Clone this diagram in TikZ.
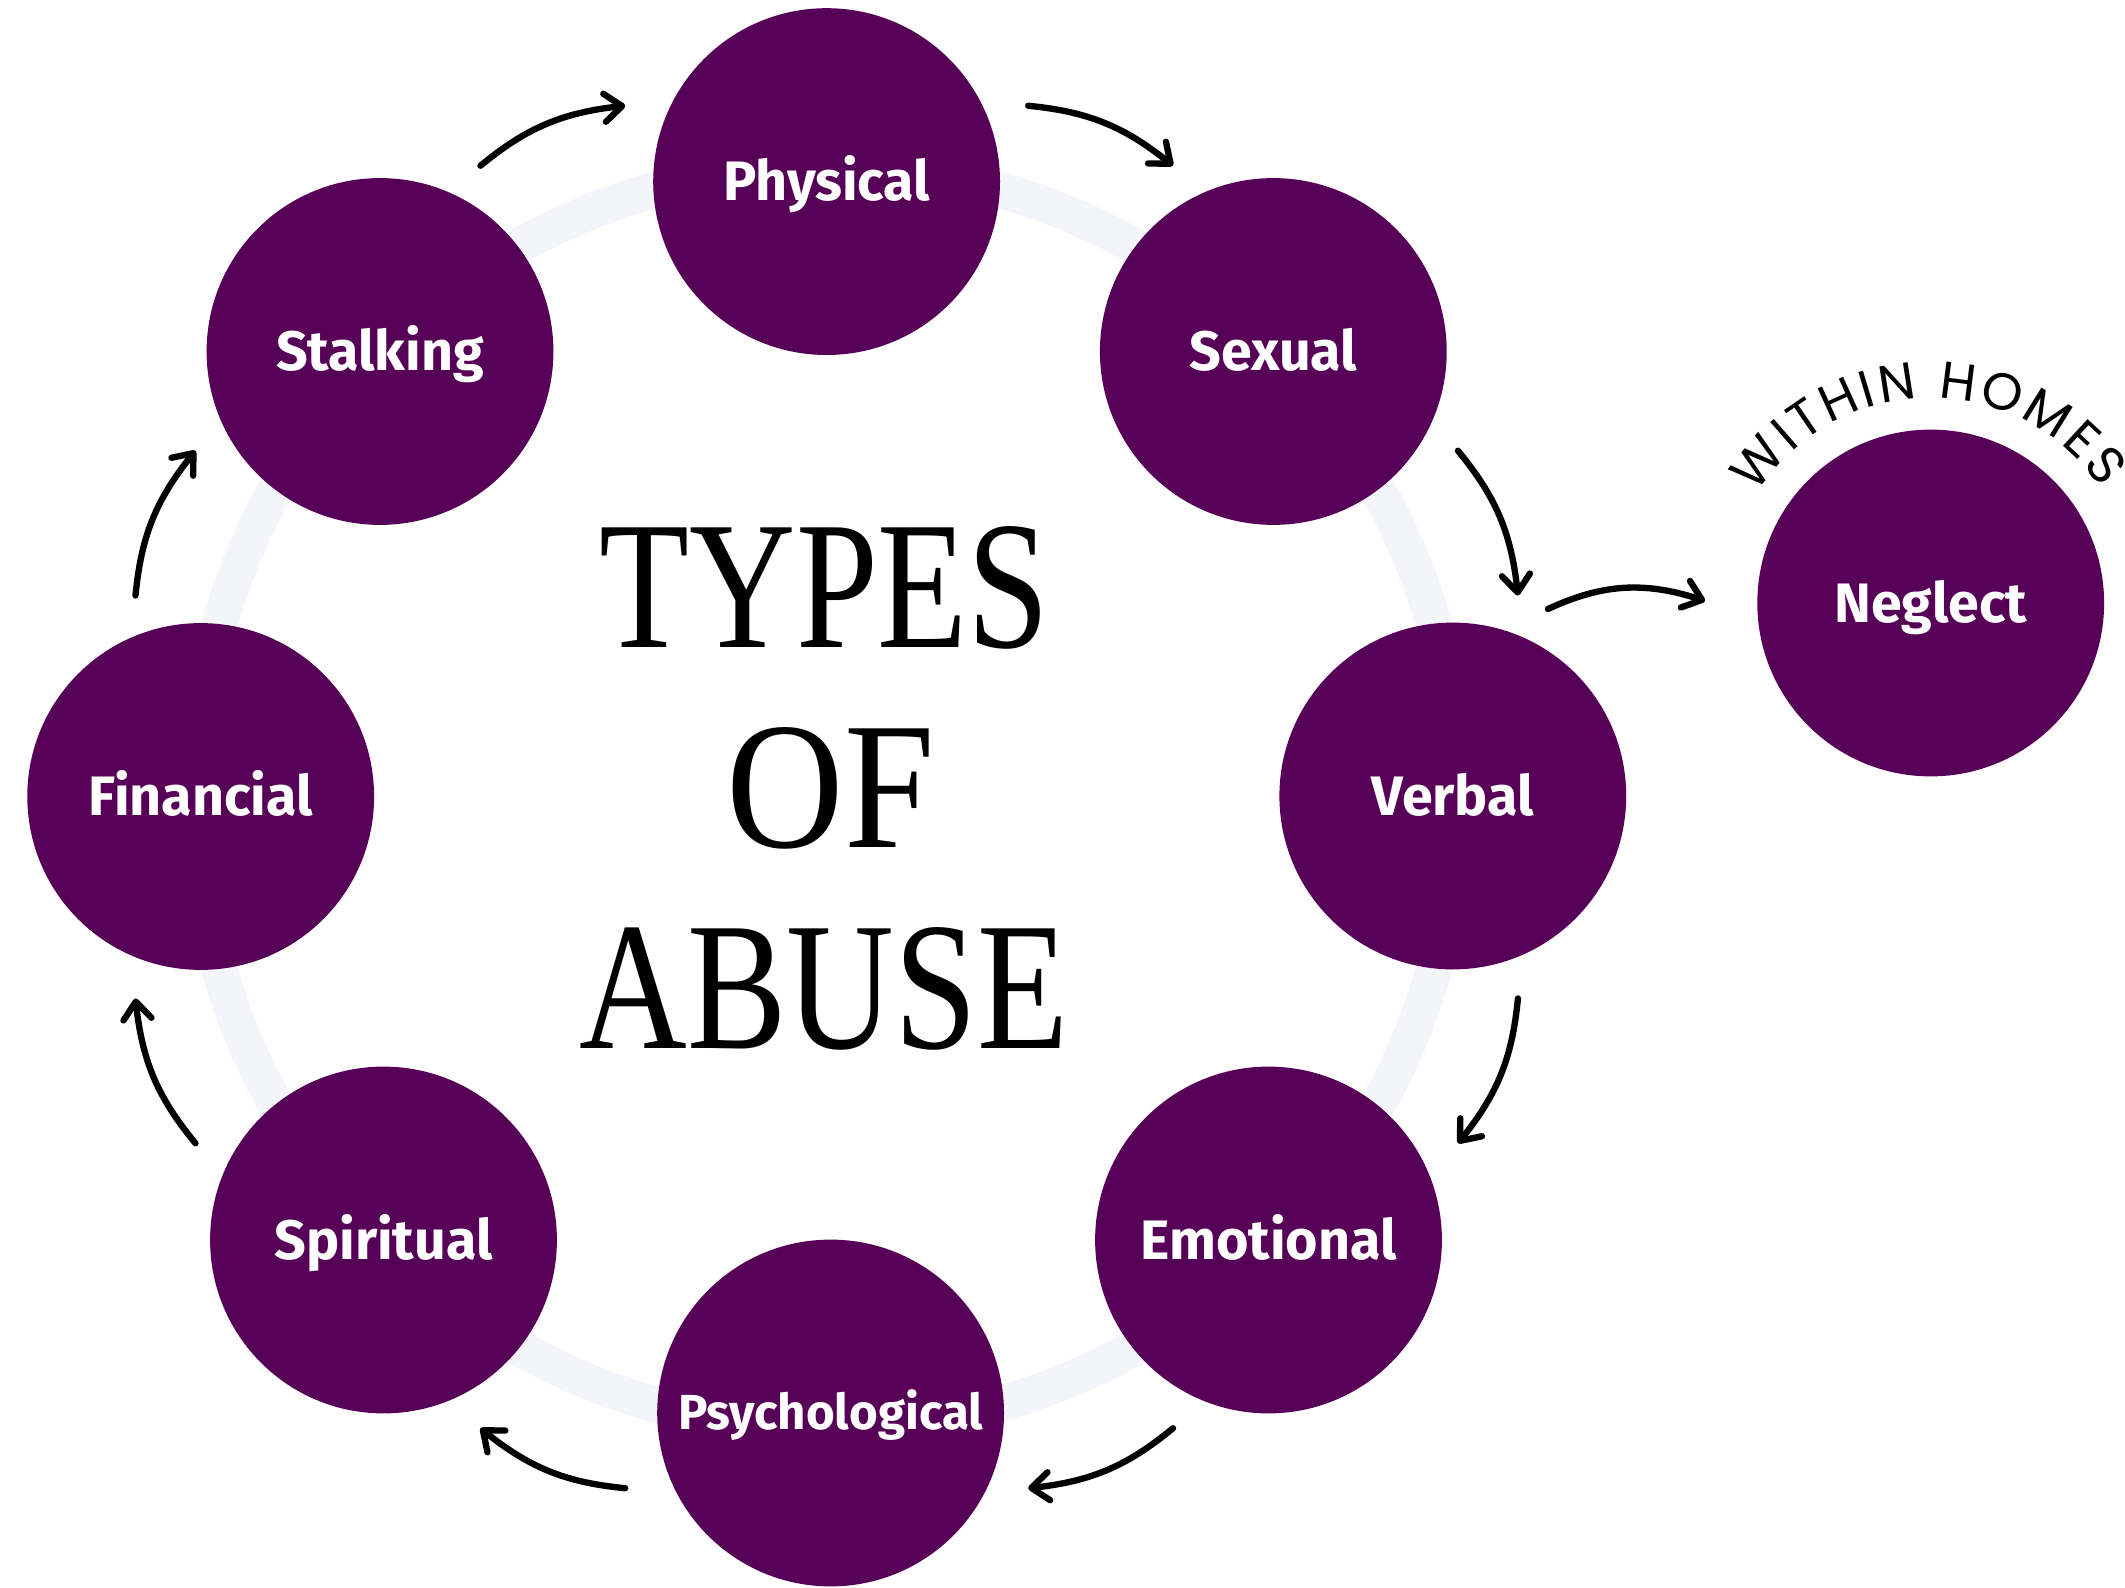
\documentclass[tikz,border=0pt]{standalone}
\usepackage{fontspec}
\usetikzlibrary{arrows.meta,calc,decorations.text,bending}
\newfontfamily\lblfont{Fira Sans}
\newfontfamily\titlefont{Liberation Serif}
\newfontfamily\homesfont{Poppins}
\definecolor{plum}{HTML}{570057}
\definecolor{ringc}{HTML}{F4F5FB}
\newlength\pxu
\setlength\pxu{0.01cm}
\begin{document}
\begin{tikzpicture}[x=0.01cm,y=0.01cm,
  bub/.style={circle,fill=plum,text=white,inner sep=0pt,minimum size=3.466cm,
    font=\lblfont\bfseries\fontsize{15.8pt}{18pt}\selectfont,
    text height=10.9pt,text depth=0pt},
  small/.style={font=\lblfont\bfseries\fontsize{14pt}{16pt}\selectfont,text height=9.65pt},
  flow/.style={-{Straight Barb[length=5pt,width=8pt,round]},line width=1.8pt,
    line cap=round,bend left=17},
  ttl/.style={inner sep=0pt,anchor=base west,font=\titlefont}]
\useasboundingbox (0,0) rectangle (2125,1587);
\coordinate (C) at (826.7,790);
\draw[ringc,line width=0.36cm] (C) circle[radius=631];
\node[bub] (phys) at (826.6,1405.4) {Physical};
\node[bub] (sex) at (1273.3,1235.5) {Sexual};
\node[bub] (stalk) at (380,1235.5) {Stalking};
\node[bub] (fin) at (200.7,790.5) {Financial};
\node[bub] (verb) at (1452.8,791) {Verbal};
\node[bub] (spir) at (383.5,347) {Spiritual};
\node[bub] (emo) at (1268.5,347) {Emotional};
\node[bub,small] (psy) at (830.6,174) {Psychological};
\node[bub] (neg) at (1930.7,984) {Neglect};
\foreach \m [count=\i] in {112.5,67.5,22.5,-22.5,-67.5,-112.5,-157.5,157.5}{
  \pgfmathsetmacro\aa{\m+6.25}
  \pgfmathsetmacro\bb{\m-6.25}
  \coordinate (s\i) at ($(C)+(\aa:720)$);
  \coordinate (e\i) at ($(C)+(\bb:720)$);
  \draw[flow] (s\i) to (e\i);
}
\coordinate (n1) at (1548,978);
\coordinate (n2) at (1705,986);
\draw[flow,bend left=22] (n1) to (n2);
\node[ttl] (t1) at (599,940) {\resizebox{450\pxu}{121\pxu}{TYPES}};
\node[ttl] (t2) at (726,740) {\resizebox{208\pxu}{120\pxu}{OF}};
\node[ttl] (t3) at (579,539) {\resizebox{489\pxu}{121\pxu}{ABUSE}};
\path[decorate,decoration={text along path,
  text={|\homesfont\fontsize{14.8pt}{17pt}\selectfont|WITHIN HOMES},
  text align=fit to path}]
  ($(neg)+(148:205)$) arc[start angle=148,end angle=34,radius=205];
\end{tikzpicture}
\end{document}
